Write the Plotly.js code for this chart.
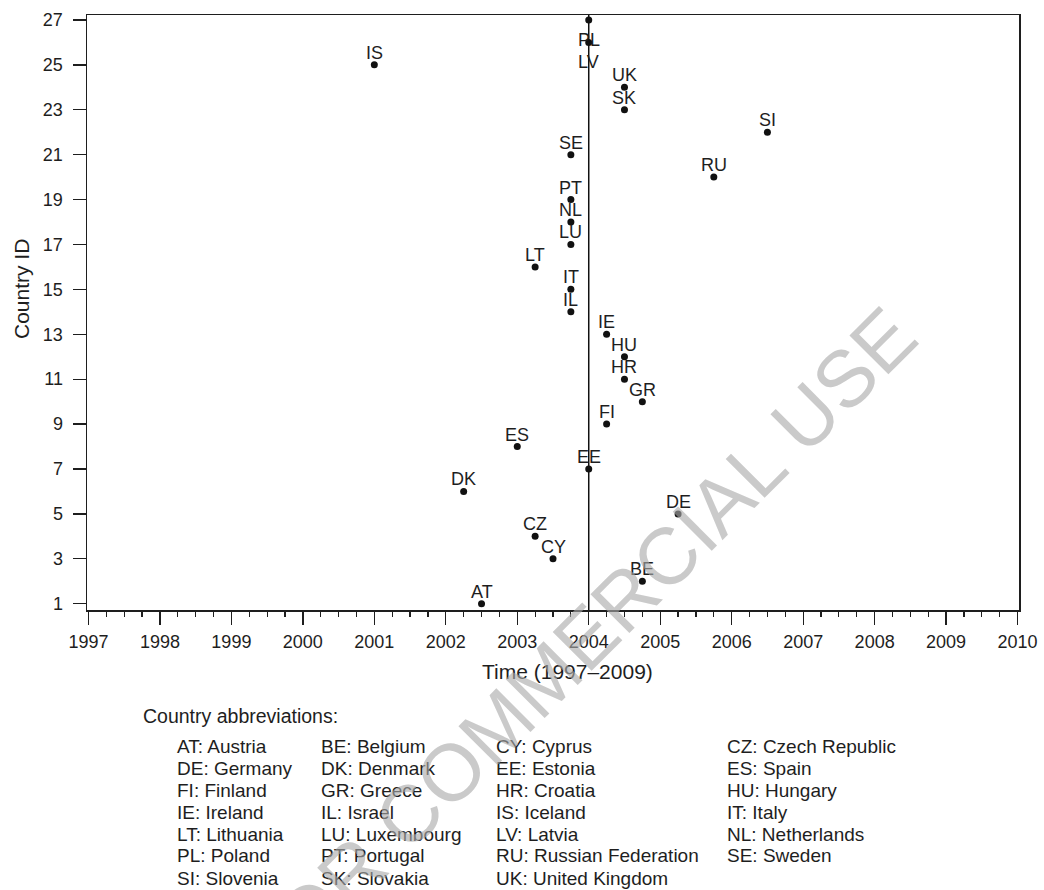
<!DOCTYPE html>
<html>
<head>
<meta charset="utf-8">
<script src="https://cdn.plot.ly/plotly-3.0.1.min.js"></script>
<style>
  html, body { margin: 0; padding: 0; background: #fff; }
  #chart { width: 1044px; height: 890px; }
</style>
</head>
<body>
<div id="chart"></div>
<script>
// ---- Data ----
const countryCodes = ['AT','BE','CY','CZ','DE','DK','EE','ES','FI','GR','HR','HU','IE','IL','IT','LT','LU','NL','PT','RU','SE','SI','SK','UK','IS','LV','PL'];
const countryIds   = [1,2,3,4,5,6,7,8,9,10,11,12,13,14,15,16,17,18,19,20,21,22,23,24,25,26,27];
const adoptionTime = [2002.5,2004.75,2003.5,2003.25,2005.25,2002.25,2004.0,2003.0,2004.25,2004.75,2004.5,2004.5,2004.25,2003.75,2003.75,2003.25,2003.75,2003.75,2003.75,2005.75,2003.75,2006.5,2004.5,2004.5,2001.0,2004.0,2004.0];
const referenceYear = 2004;

const xTickYears = [1997,1998,1999,2000,2001,2002,2003,2004,2005,2006,2007,2008,2009,2010];
const yTickIds   = [1,3,5,7,9,11,13,15,17,19,21,23,25,27];

const legendCodes = ['AT','BE','CY','CZ','DE','DK','EE','ES','FI','GR','HR','HU','IE','IL','IS','IT','LT','LU','LV','NL','PL','PT','RU','SE','SI','SK','UK'];
const legendNames = ['Austria','Belgium','Cyprus','Czech Republic','Germany','Denmark','Estonia','Spain','Finland','Greece','Croatia','Hungary','Ireland','Israel','Iceland','Italy','Lithuania','Luxembourg','Latvia','Netherlands','Poland','Portugal','Russian Federation','Sweden','Slovenia','Slovakia','United Kingdom'];

const xAxisTitle = 'Time (1997–2009)';
const yAxisTitle = 'Country ID';
const legendTitle = 'Country abbreviations:';
const watermarkText = 'NOT FOR COMMERCIAL USE';

// ---- Layout helpers (pixel -> paper) ----
const W = 1044, H = 890;
const M = { l: 87, r: 25, t: 15, b: 280 };
const pw = W - M.l - M.r, ph = H - M.t - M.b;
const px2paperX = px => (px - M.l) / pw;
const px2paperY = py => (H - M.b - py) / ph;

const FONT = '"Liberation Sans", Arial, Helvetica, sans-serif';
const INK = '#1e1e1e';

// point labels
const labelsBelow = new Set(['PL','LV']);
const annotations = countryCodes.map((c, i) => ({
  x: adoptionTime[i], y: countryIds[i], xref: 'x', yref: 'y',
  text: c, showarrow: false,
  font: { family: FONT, size: 18, color: INK },
  xanchor: 'center', yanchor: 'middle',
  yshift: labelsBelow.has(c) ? -20 : 12
}));

// axis titles
annotations.push({
  x: px2paperX(567), y: px2paperY(671), xref: 'paper', yref: 'paper',
  text: xAxisTitle, showarrow: false, xanchor: 'center', yanchor: 'middle',
  font: { family: FONT, size: 21, color: INK }
});
annotations.push({
  x: px2paperX(21), y: px2paperY(289), xref: 'paper', yref: 'paper',
  text: yAxisTitle, showarrow: false, xanchor: 'center', yanchor: 'middle', textangle: -90,
  font: { family: FONT, size: 21, color: INK }
});

// legend block
annotations.push({
  x: px2paperX(141), y: px2paperY(716), xref: 'paper', yref: 'paper',
  text: legendTitle, showarrow: false, xanchor: 'left', yanchor: 'middle',
  font: { family: FONT, size: 19.5, color: INK }
});
const colX = [175, 319, 494, 725];
legendCodes.forEach((c, i) => {
  const col = i % 4, row = Math.floor(i / 4);
  annotations.push({
    x: px2paperX(colX[col]), y: px2paperY(746 + row * 22), xref: 'paper', yref: 'paper',
    text: c + ': ' + legendNames[i], showarrow: false, xanchor: 'left', yanchor: 'middle',
    font: { family: FONT, size: 19, color: INK }
  });
});

// watermark
annotations.push({
  x: px2paperX(510), y: px2paperY(713), xref: 'paper', yref: 'paper',
  text: watermarkText, showarrow: false, xanchor: 'center', yanchor: 'middle', textangle: -45,
  font: { family: FONT, size: 80, color: 'rgba(170,170,170,0.62)' }
});

const trace = {
  type: 'scatter', mode: 'markers',
  x: adoptionTime, y: countryIds, text: countryCodes,
  marker: { color: '#111', size: 7 },
  hoverinfo: 'text+x+y', cliponaxis: false
};

const axisCommon = {
  showgrid: false, zeroline: false, showline: true, mirror: true,
  linecolor: INK, linewidth: 1.5, ticks: 'outside', ticklen: 13, tickwidth: 1.3, tickcolor: INK,
  tickfont: { family: FONT, size: 18, color: INK }
};

const layout = {
  width: W, height: H,
  margin: M,
  paper_bgcolor: '#fff', plot_bgcolor: '#fff',
  showlegend: false,
  xaxis: Object.assign({}, axisCommon, {
    range: [1996.98, 2010.02],
    tickmode: 'array', tickvals: xTickYears, ticktext: xTickYears.map(String),
    ticklabelstandoff: 2,
    minor: { dtick: 0.25, tick0: 1997, ticks: 'outside', ticklen: 5, tickwidth: 1.2, tickcolor: INK, showgrid: false }
  }),
  yaxis: Object.assign({}, axisCommon, {
    range: [0.72, 27.22],
    tickmode: 'array', tickvals: yTickIds, ticktext: yTickIds.map(String),
    ticklabelstandoff: 6
  }),
  shapes: [{
    type: 'line', xref: 'x', yref: 'paper', x0: referenceYear, x1: referenceYear, y0: 0, y1: 1,
    line: { color: '#111', width: 1.5 }, layer: 'below'
  }],
  annotations: annotations
};

Plotly.newPlot('chart', [trace], layout, { displayModeBar: false, staticPlot: true });
</script>
</body>
</html>
